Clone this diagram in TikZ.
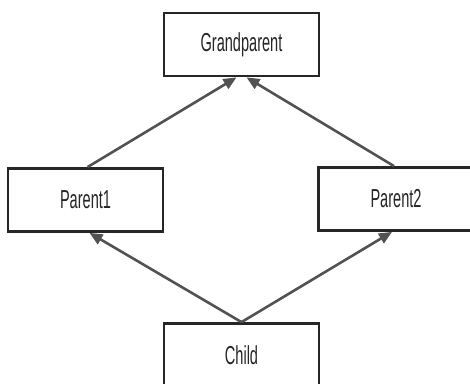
\documentclass[tikz,border=0pt]{standalone}
\usepackage{fontspec}
\setmainfont[FakeStretch=0.56]{Liberation Sans}
\usetikzlibrary{arrows.meta,calc}
\begin{document}
\begin{tikzpicture}[x=1pt,y=-1pt,
  box/.style={draw=black!85,line width=2.8pt,fill=white,rectangle,
    minimum width=155pt,minimum height=63pt,inner sep=0pt,
    font=\fontsize{26}{29}\selectfont,text=black!85},
  link/.style={draw=black!68,line width=2.6pt,
    -{Triangle[length=13pt,width=11pt]}}]
\useasboundingbox (0,0) rectangle (470,383);
\clip (0,0) rectangle (470,383);
\node[box] (gp) at (241.5,44.5) {Grandparent};
\node[box] (p1) at (85.5,200) {Parent1};
\node[box] (p2) at (396,199) {Parent2};
\node[box] (c) at (241.5,355) {Child};
\draw[link] ($(p1.north)+(2,0)$) -- ($(gp.south)+(-5,0)$);
\draw[link] ($(p2.north)+(-2,0)$) -- ($(gp.south)+(5,0)$);
\draw[link] (c.north) -- ($(p1.south)+(4,0)$);
\draw[link] (c.north) -- ($(p2.south)+(-4,0)$);
\end{tikzpicture}
\end{document}
